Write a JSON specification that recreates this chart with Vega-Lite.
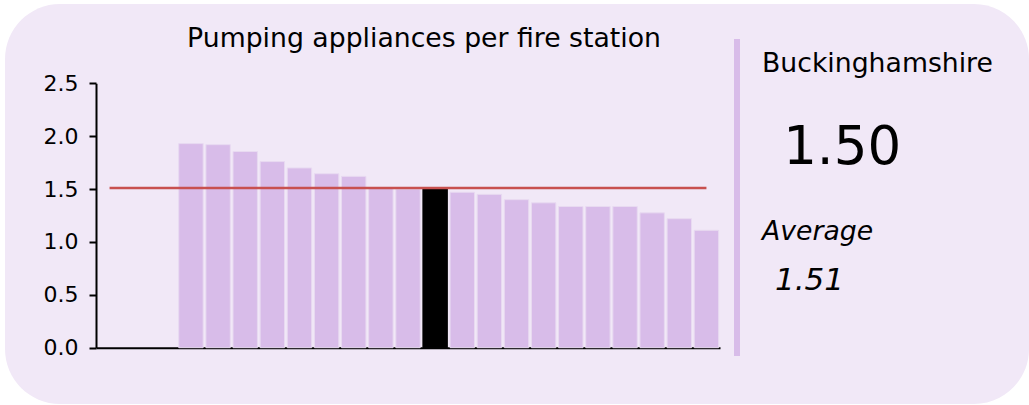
{
  "$schema": "https://vega.github.io/schema/vega-lite/v6.json",
  "width": 1024,
  "height": 400,
  "autosize": "none",
  "padding": {"left": 5, "top": 4, "right": 0, "bottom": 1},
  "background": "white",
  "config": {
    "font": "DejaVu Sans",
    "view": {"fill": "#f1e8f7", "stroke": null, "cornerRadius": 55},
    "axis": {"grid": false, "domainColor": "black", "domainWidth": 2, "tickColor": "black", "tickWidth": 2, "tickSize": 7, "labelFont": "DejaVu Sans", "labelFontSize": 22, "labelPadding": 11, "labelColor": "black"}
  },
  "title": {
    "text": "Pumping appliances per fire station",
    "font": "DejaVu Sans",
    "fontSize": 26.7,
    "fontWeight": "normal",
    "color": "black",
    "anchor": "middle",
    "frame": "group",
    "baseline": "alphabetic",
    "dx": -93,
    "dy": 26,
    "offset": -44
  },
  "datasets": {
    "stations": [
      {"area": "London", "value": null},
      {"area": "Greater Manchester", "value": null},
      {"area": "West Midlands", "value": null},
      {"area": "Cumbria", "value": 1.93},
      {"area": "North Yorkshire", "value": 1.92},
      {"area": "Devon and Somerset", "value": 1.855},
      {"area": "Lincolnshire", "value": 1.76},
      {"area": "Shropshire", "value": 1.70},
      {"area": "Norfolk", "value": 1.645},
      {"area": "Suffolk", "value": 1.62},
      {"area": "Hereford and Worcester", "value": 1.51},
      {"area": "Wiltshire", "value": 1.50},
      {"area": "Buckinghamshire", "value": 1.50},
      {"area": "Oxfordshire", "value": 1.47},
      {"area": "Cornwall", "value": 1.45},
      {"area": "Dorset", "value": 1.40},
      {"area": "Cambridgeshire", "value": 1.37},
      {"area": "Northamptonshire", "value": 1.335},
      {"area": "Hampshire", "value": 1.335},
      {"area": "Kent", "value": 1.335},
      {"area": "Surrey", "value": 1.275},
      {"area": "Essex", "value": 1.22},
      {"area": "Bedfordshire", "value": 1.11}
    ],
    "summary": [
      {"area": "Buckinghamshire", "value": 1.50, "average": 1.51}
    ]
  },
  "layer": [
    {
      "data": {"name": "stations"},
      "encoding": {
        "x": {
          "field": "area",
          "type": "nominal",
          "sort": null,
          "scale": {
            "domain": ["London", "Greater Manchester", "West Midlands", "Cumbria", "North Yorkshire", "Devon and Somerset", "Lincolnshire", "Shropshire", "Norfolk", "Suffolk", "Hereford and Worcester", "Wiltshire", "Buckinghamshire", "Oxfordshire", "Cornwall", "Dorset", "Cambridgeshire", "Northamptonshire", "Hampshire", "Kent", "Surrey", "Essex", "Bedfordshire"],
            "range": [91, 715],
            "paddingInner": 0.1,
            "paddingOuter": 0.05
          },
          "axis": {"title": null, "labels": false, "ticks": false, "tickSize": 0, "tickOpacity": 0, "offset": -56.3}
        }
      },
      "layer": [
        {
          "mark": {"type": "bar", "strokeWidth": 1},
          "encoding": {
            "y": {
              "field": "value",
              "type": "quantitative",
              "scale": {"domain": [0, 2.5], "range": [343.7, 79.3], "nice": false, "zero": true},
              "axis": {"title": null, "values": [0, 0.5, 1, 1.5, 2, 2.5], "format": ".1f", "labelFontSize": 22, "tickSize": 7, "labelPadding": 11, "offset": -91}
            },
            "fill": {"condition": {"test": "datum.area === 'Buckinghamshire'", "value": "black"}, "value": "#d8bce9"},
            "stroke": {"condition": {"test": "datum.area === 'Buckinghamshire'", "value": "black"}, "value": "#e8daf1"}
          }
        },
        {
          "mark": {"type": "line", "color": "#c8504f", "strokeWidth": 2.4},
          "encoding": {
            "y": {"datum": 1.51, "type": "quantitative"}
          }
        }
      ]
    },
    {
      "data": {"name": "summary"},
      "encoding": {
        "x": {"datum": 0, "type": "quantitative", "scale": {"domain": [0, 100], "range": [732, 1024]}, "axis": null},
        "y": {"datum": 0, "type": "quantitative", "scale": {"domain": [0, 100], "range": [352, 35]}, "axis": null}
      },
      "layer": [
        {
          "mark": {"type": "rule", "color": "#d8bce9", "strokeWidth": 6},
          "encoding": {
            "y2": {"datum": 100}
          }
        },
        {
          "mark": {"type": "text", "align": "left", "baseline": "alphabetic", "fontSize": 26.7, "color": "black", "font": "DejaVu Sans"},
          "encoding": {
            "x": {"datum": 8.56, "type": "quantitative"},
            "y": {"datum": 89.6, "type": "quantitative"},
            "text": {"field": "area"}
          }
        },
        {
          "mark": {"type": "text", "align": "left", "baseline": "alphabetic", "fontSize": 53, "color": "black", "font": "DejaVu Sans"},
          "encoding": {
            "x": {"datum": 15.8, "type": "quantitative"},
            "y": {"datum": 60.6, "type": "quantitative"},
            "text": {"field": "value", "format": ".2f"}
          }
        },
        {
          "mark": {"type": "text", "align": "left", "baseline": "alphabetic", "fontSize": 26.7, "fontStyle": "italic", "color": "black", "font": "DejaVu Sans", "text": "Average"},
          "encoding": {
            "x": {"datum": 8.56, "type": "quantitative"},
            "y": {"datum": 36.6, "type": "quantitative"}
          }
        },
        {
          "mark": {"type": "text", "align": "left", "baseline": "alphabetic", "fontSize": 31, "fontStyle": "italic", "color": "black", "font": "DejaVu Sans"},
          "encoding": {
            "x": {"datum": 13, "type": "quantitative"},
            "y": {"datum": 20.8, "type": "quantitative"},
            "text": {"field": "average", "format": ".2f"}
          }
        }
      ]
    }
  ],
  "resolve": {"scale": {"x": "independent", "y": "independent"}, "axis": {"x": "independent", "y": "independent"}}
}
